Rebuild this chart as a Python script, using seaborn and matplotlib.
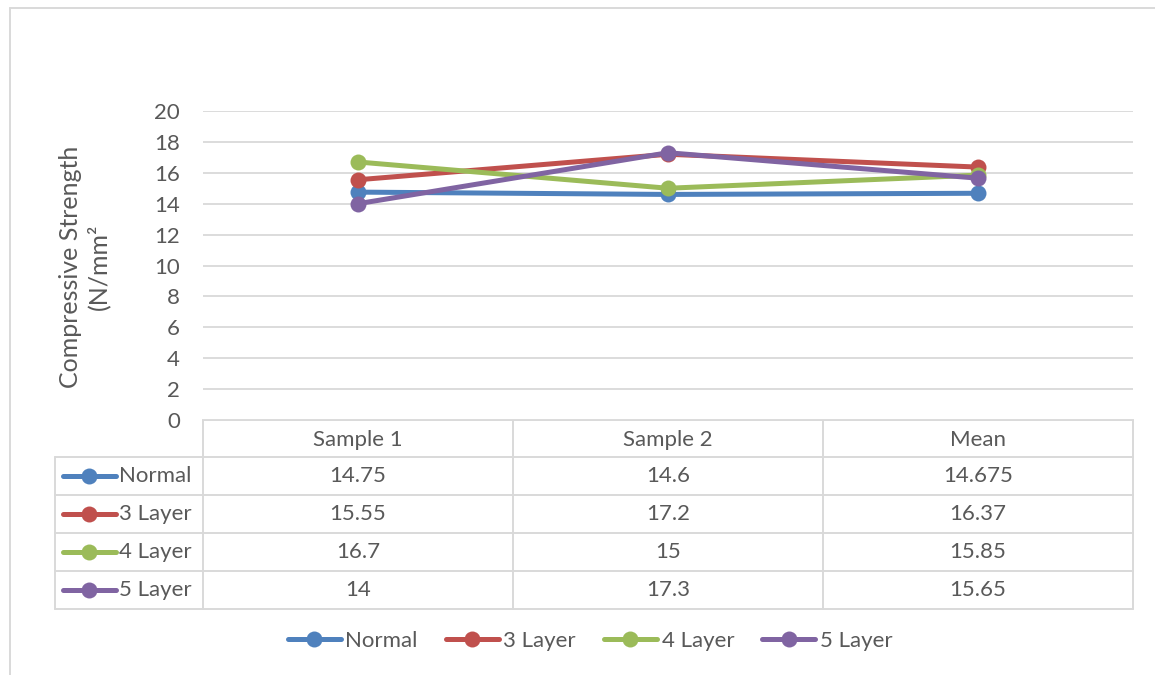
import matplotlib
matplotlib.use('Agg')
import matplotlib.pyplot as plt
from matplotlib.lines import Line2D
import seaborn as sns
import pandas as pd

# data
categories = ['Sample 1', 'Sample 2', 'Mean']
series_names = ['Normal', '3 Layer', '4 Layer', '5 Layer']
normal = [14.75, 14.6, 14.675]
layer3 = [15.55, 17.2, 16.37]
layer4 = [16.7, 15, 15.85]
layer5 = [14, 17.3, 15.65]
y_ticks = [0, 2, 4, 6, 8, 10, 12, 14, 16, 18, 20]

colors = ['#4F81BD', '#C0504D', '#9BBB59', '#8064A2']
text_color = '#595959'
grid_color = '#D9D9D9'

sns.set_theme(style='white')
plt.rcParams['font.family'] = ['Lato', 'DejaVu Sans']

fs = 16
values = [normal, layer3, layer4, layer5]
rows = []
for name, vals in zip(series_names, values):
    for i, v in enumerate(vals):
        rows.append({'series': name, 'pos': i, 'value': v})
df = pd.DataFrame(rows)

W, H = 1155, 675
fig = plt.figure(figsize=(W / 100, H / 100), dpi=100)

# plot area in pixel coordinates
left, right, top, bottom = 203, 1133, 111, 420
ax = fig.add_axes([left / W, 1 - bottom / H, (right - left) / W, (bottom - top) / H])

sns.lineplot(data=df, x='pos', y='value', hue='series', hue_order=series_names,
             palette=colors, marker='o', markersize=11.5, linewidth=3.6,
             markeredgewidth=0, legend=False, ax=ax, zorder=3)

ax.set_xlim(-0.5, len(categories) - 0.5)
ax.set_ylim(0, 20)
ax.set_yticks(y_ticks)
ax.set_yticklabels([str(t) for t in y_ticks], fontsize=fs, color=text_color)
ax.set_xticks([])
ax.tick_params(axis='y', length=0, pad=16.5)
ax.grid(axis='y', color=grid_color, linewidth=1.3)
for s in ax.spines.values():
    s.set_visible(False)
ax.set_xlabel('')
ax.set_ylabel('')

fig.text(70 / W, 1 - 267 / H, 'Compressive Strength', rotation=90, ha='center',
         va='center', fontsize=18, color=text_color)
fig.text(98 / W, 1 - 267 / H, '(N/mm²', rotation=90, ha='center',
         va='center', fontsize=18, color=text_color)

# data table drawn on a pixel overlay
ov = fig.add_axes([0, 0, 1, 1], zorder=-1)
ov.set_xlim(0, W)
ov.set_ylim(H, 0)
ov.axis('off')

lw = 1.4
# outer chart border (top and left visible)
ov.plot([9.5, W], [7.5, 7.5], color=grid_color, lw=lw)
ov.plot([9.5, 9.5], [7.5, H], color=grid_color, lw=lw)

tab_left = 55
header_top, header_bot = 420, 457
row_h = 38
col_w = (right - left) / len(categories)
n_rows = len(series_names)
tab_bot = header_bot + n_rows * row_h

ov.plot([left, right], [header_top, header_top], color=grid_color, lw=lw)
for r in range(n_rows + 1):
    y = header_bot + r * row_h
    ov.plot([tab_left, right], [y, y], color=grid_color, lw=lw)
ov.plot([tab_left, tab_left], [header_bot, tab_bot], color=grid_color, lw=lw)
for c in range(len(categories) + 1):
    x = left + c * col_w
    ov.plot([x, x], [header_top, tab_bot], color=grid_color, lw=lw)

for c, cat in enumerate(categories):
    ov.text(left + (c + 0.5) * col_w, (header_top + header_bot) / 2 + 1, cat,
            ha='center', va='center', fontsize=fs, color=text_color)

for r, (name, vals, col) in enumerate(zip(series_names, values, colors)):
    yc = header_bot + (r + 0.5) * row_h
    ov.plot([63, 116], [yc, yc], color=col, lw=3.6, solid_capstyle='round')
    ov.plot([89], [yc], 'o', color=col, markersize=11.5, markeredgewidth=0)
    ov.text(119, yc, name, ha='left', va='center', fontsize=fs, color=text_color)
    for c, v in enumerate(vals):
        ov.text(left + (c + 0.5) * col_w, yc, f'{v:g}', ha='center', va='center',
                fontsize=fs, color=text_color)

# legend at bottom
handles = [Line2D([0], [0], color=col, lw=3.6, marker='o', markersize=11.5,
                  markeredgewidth=0) for col in colors]
fig.legend(handles, series_names, loc='center', bbox_to_anchor=(590 / W, 1 - 641 / H),
           ncol=4, frameon=False, fontsize=fs, handlelength=2.4, handletextpad=0.2,
           columnspacing=1.25, labelcolor=text_color)

fig.savefig('out.png', dpi=100)
